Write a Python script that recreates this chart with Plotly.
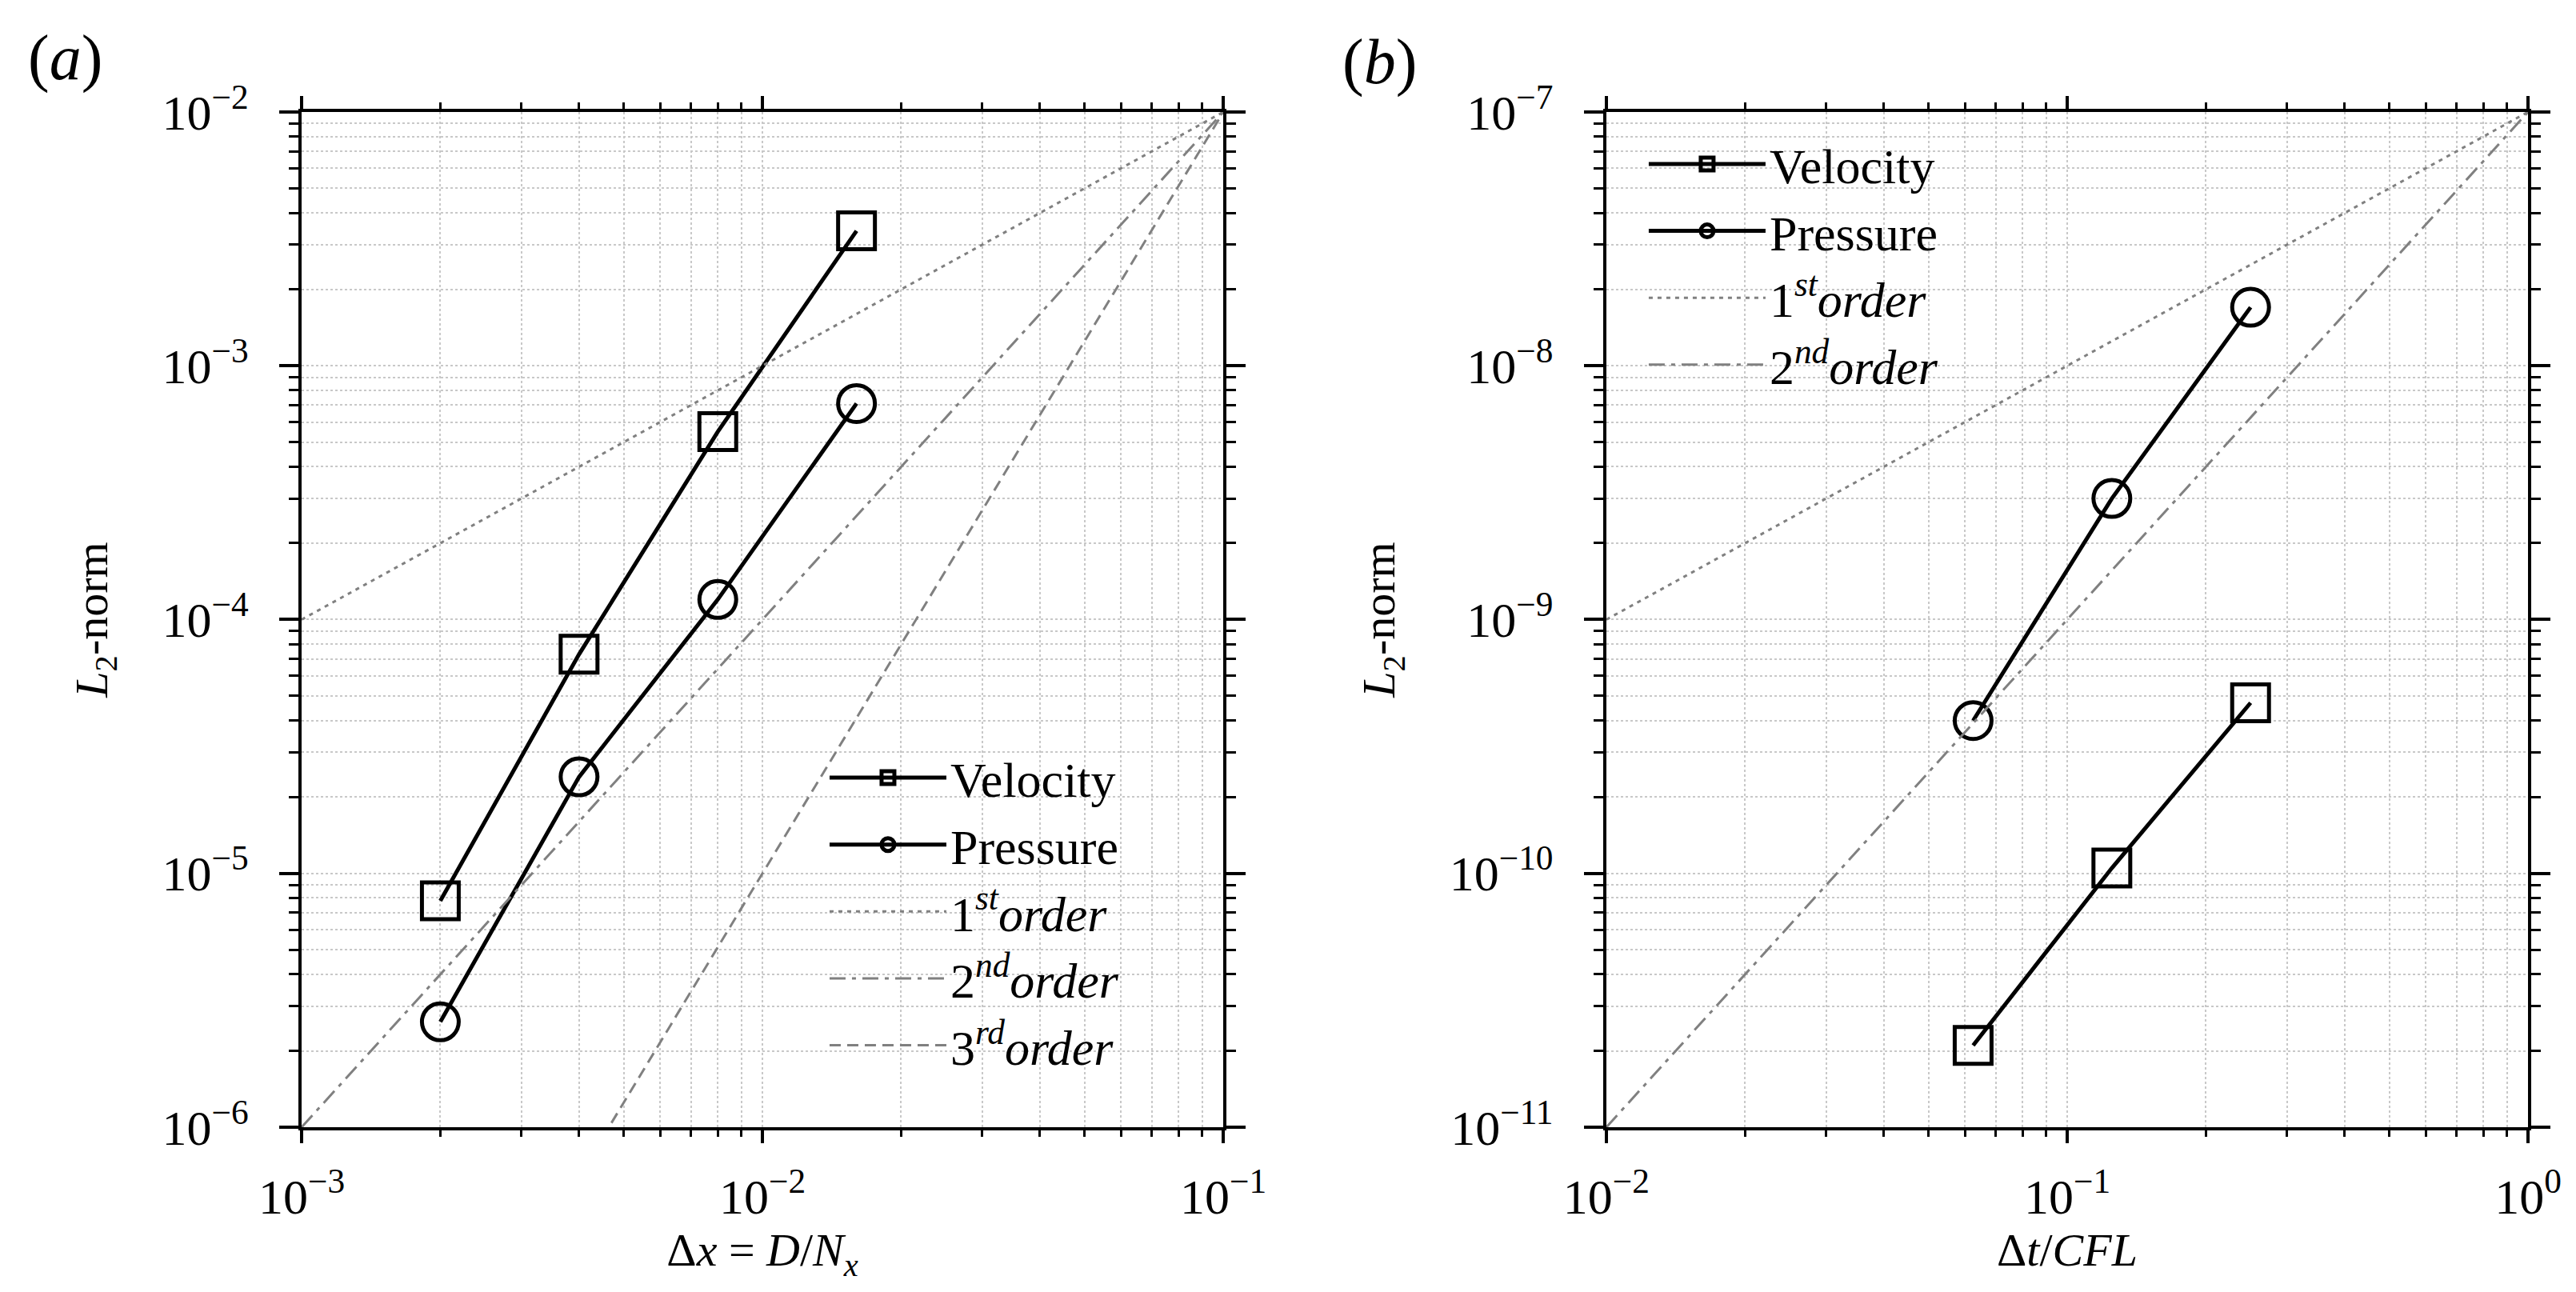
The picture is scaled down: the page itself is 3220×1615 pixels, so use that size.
import plotly.graph_objects as go

# (a) spatial convergence
dx = [0.002, 0.004, 0.008, 0.016]
vel_dx = [7.8e-6, 7.3e-5, 5.5e-4, 3.4e-3]
pres_dx = [2.6e-6, 2.4e-5, 1.2e-4, 7.1e-4]
ref_x_a = [1e-3, 1e-1]
first_a = [1e-4, 1e-2]
second_a = [1e-6, 1e-2]
third_a = [1e-8, 1e-2]

# (b) temporal convergence
dt = [0.0625, 0.125, 0.25]
vel_dt = [2.1e-11, 1.05e-10, 4.7e-10]
pres_dt = [4.0e-10, 3.0e-9, 1.7e-8]
ref_x_b = [1e-2, 1.0]
first_b = [1e-9, 1e-7]
second_b = [1e-11, 1e-7]

# tick labels
xticks_a = [1e-3, 1e-2, 1e-1]
xlabels_a = ["10<sup>−3</sup>", "10<sup>−2</sup>", "10<sup>−1</sup>"]
yticks_a = [1e-6, 1e-5, 1e-4, 1e-3, 1e-2]
ylabels_a = ["10<sup>−6</sup>", "10<sup>−5</sup>", "10<sup>−4</sup>", "10<sup>−3</sup>", "10<sup>−2</sup>"]
xticks_b = [1e-2, 1e-1, 1.0]
xlabels_b = ["10<sup>−2</sup>", "10<sup>−1</sup>", "10<sup>0</sup>"]
yticks_b = [1e-11, 1e-10, 1e-9, 1e-8, 1e-7]
ylabels_b = ["10<sup>−11</sup>", "10<sup>−10</sup>", "10<sup>−9</sup>", "10<sup>−8</sup>", "10<sup>−7</sup>"]

FONT = "Liberation Serif"
GRAY = "#808080"
BLACK = "black"

fig = go.Figure()

def data_trace(x, y, name, symbol, xa, ya, leg):
    return go.Scatter(x=x, y=y, name=name, mode="lines+markers",
                      line=dict(color=BLACK, width=5),
                      marker=dict(symbol=symbol, size=46, color=BLACK,
                                  line=dict(color=BLACK, width=5)),
                      xaxis=xa, yaxis=ya, legend=leg, legendgroup=name + xa)

def ref_trace(x, y, name, dash, xa, ya, leg):
    return go.Scatter(x=x, y=y, name=name, mode="lines",
                      line=dict(color=GRAY, width=3, dash=dash),
                      xaxis=xa, yaxis=ya, legend=leg, legendgroup=name + xa)

dot = "5px,6px"
dashdot = "20px,8px,5px,8px"
dash = "14px,8px"

fig.add_trace(data_trace(dx, vel_dx, "Velocity", "square-open", "x", "y", "legend"))
fig.add_trace(data_trace(dx, pres_dx, "Pressure", "circle-open", "x", "y", "legend"))
fig.add_trace(ref_trace(ref_x_a, first_a, "1<sup><i>st</i></sup><i>order</i>", dot, "x", "y", "legend"))
fig.add_trace(ref_trace(ref_x_a, second_a, "2<sup><i>nd</i></sup><i>order</i>", dashdot, "x", "y", "legend"))
fig.add_trace(ref_trace(ref_x_a, third_a, "3<sup><i>rd</i></sup><i>order</i>", dash, "x", "y", "legend"))

fig.add_trace(data_trace(dt, vel_dt, "Velocity", "square-open", "x2", "y2", "legend2"))
fig.add_trace(data_trace(dt, pres_dt, "Pressure", "circle-open", "x2", "y2", "legend2"))
fig.add_trace(ref_trace(ref_x_b, first_b, "1<sup><i>st</i></sup><i>order</i>", dot, "x2", "y2", "legend2"))
fig.add_trace(ref_trace(ref_x_b, second_b, "2<sup><i>nd</i></sup><i>order</i>", dashdot, "x2", "y2", "legend2"))

grid = dict(showgrid=True, gridcolor="#c8c8c8", gridwidth=2, griddash="dot")

def xax(dom, rng, title, tv, tt, anchor):
    return dict(type="log", domain=dom, range=rng, tickvals=tv, ticktext=tt,
                anchor=anchor, automargin=False,
                showline=True, linecolor=BLACK, linewidth=4, mirror="allticks",
                ticks="outside", ticklen=16, tickwidth=4, tickcolor=BLACK,
                ticklabelstandoff=14, tickfont=dict(size=62),
                minor=dict(ticks="outside", ticklen=8, tickwidth=3, tickcolor=BLACK,
                           dtick="D1", **grid),
                title=dict(text=title, font=dict(size=58), standoff=0),
                zeroline=False, **grid)

def yax(dom, rng, tv, tt, anchor):
    return dict(type="log", domain=dom, range=rng, tickvals=tv, ticktext=tt,
                anchor=anchor, automargin=False,
                showline=True, linecolor=BLACK, linewidth=4, mirror="allticks",
                ticks="outside", ticklen=24, tickwidth=4, tickcolor=BLACK,
                ticklabelstandoff=26, tickfont=dict(size=62),
                minor=dict(ticks="outside", ticklen=12, tickwidth=3, tickcolor=BLACK,
                           dtick="D1", **grid),
                title=dict(text="<i>L</i><sub>2</sub>-norm", font=dict(size=58), standoff=50),
                zeroline=False, **grid)

ydom = [0.1325, 0.9183]
fig.update_layout(
    width=3220, height=1615,
    margin=dict(l=0, r=0, t=0, b=0),
    paper_bgcolor="white", plot_bgcolor="white",
    font=dict(family=FONT, color=BLACK, size=62),
    xaxis=xax([0.1146, 0.4724], [-3, -1], "Δ<i>x</i> = <i>D</i>/<i>N</i><sub><i>x</i></sub>",
              xticks_a, xlabels_a, "y"),
    yaxis=yax(ydom, [-6, -2], yticks_a, ylabels_a, "x"),
    xaxis2=xax([0.6211, 0.9789], [-2, 0], "Δ<i>t</i>/<i>CFL</i>", xticks_b, xlabels_b, "y2"),
    yaxis2=yax(ydom, [-11, -7], yticks_b, ylabels_b, "x2"),
    legend=dict(x=0.318, y=0.432, xanchor="left", yanchor="top", tracegroupgap=0,
                bgcolor="rgba(0,0,0,0)", font=dict(size=62), itemwidth=146),
    legend2=dict(x=0.636, y=0.907, xanchor="left", yanchor="top", tracegroupgap=0,
                 bgcolor="rgba(0,0,0,0)", font=dict(size=62), itemwidth=146),
    showlegend=True,
    annotations=[
        dict(text="(<i>a</i>)", x=0.0227, y=0.96, xref="paper", yref="paper",
             xanchor="center", yanchor="middle", showarrow=False, font=dict(size=80)),
        dict(text="(<i>b</i>)", x=0.533, y=0.957, xref="paper", yref="paper",
             xanchor="center", yanchor="middle", showarrow=False, font=dict(size=80)),
    ],
)

fig.write_html("out.html")
